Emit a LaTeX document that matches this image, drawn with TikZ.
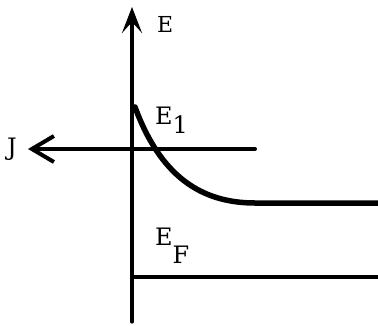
\documentclass[tikz,border=0pt]{standalone}
\usepackage{fontspec}
\setmainfont{DejaVu Serif}
\usetikzlibrary{arrows.meta}
\begin{document}
\begin{tikzpicture}[x=1pt,y=-1pt,
  lbl/.style={inner sep=0pt,font=\fontsize{24}{24}\selectfont},
  lbltop/.style={inner sep=0pt,font=\fontsize{22}{22}\selectfont},
  axisline/.style={line width=3.2pt,line cap=round}]
\useasboundingbox (0,0) rectangle (378,325);
% coordinates
\coordinate (ybot) at (132,322);
\coordinate (ytop) at (132,7);
\coordinate (jstart) at (255,149);
\coordinate (jtip) at (28,149);
\coordinate (cstart) at (135,107);
\coordinate (cend) at (255,203);
\coordinate (cright) at (378,203);
\coordinate (fstart) at (132,277);
\coordinate (fend) at (378,277);
% axes
\draw[axisline,-{Stealth[length=26pt,width=20pt,inset=11pt]}] (ybot) -- (ytop);
\draw[line width=4pt,line cap=round,-{Straight Barb[length=22pt,width=26pt,line width=4pt]}] (jstart) -- (jtip);
% barrier curve
\draw[line width=5.5pt,line cap=round] (cstart) .. controls (160,175) and (200,203) .. (cend) -- (cright);
% Fermi level
\draw[line width=3.5pt] (fstart) -- (fend);
% labels
\node[lbltop,anchor=base west] (E) at (157,32) {E};
\node[lbl,anchor=base west] (J) at (7,155) {J};
\node[lbl,anchor=base west] (E1) at (155,124) {E\raisebox{-9pt}{1}};
\node[lbl,anchor=base west] (EF) at (155,245) {E\raisebox{-18pt}{F}};
\end{tikzpicture}
\end{document}
